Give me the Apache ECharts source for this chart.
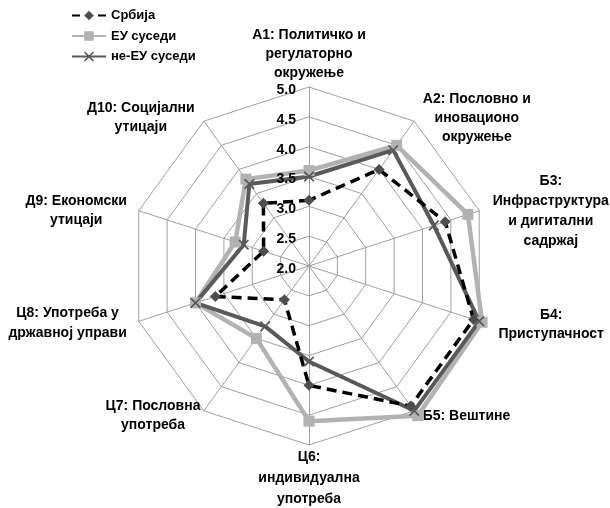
<!DOCTYPE html>
<html>
<head>
<meta charset="utf-8">
<script src="https://cdn.jsdelivr.net/npm/echarts@6/dist/echarts.min.js"></script>
<style>
html,body{margin:0;padding:0;background:#ffffff;}
#chart{width:610px;height:508px;}
</style>
</head>
<body>
<div id="chart"></div>
<script>
// ---- data (clockwise from the top) ----
const categories = [
  'А1: Политичко и\nрегулаторно\nокружење',
  'А2: Пословно и\nиновационо\nокружење',
  'Б3:\nИнфраструктура\nи дигитални\nсадржај',
  'Б4:\nПриступачност',
  'Б5: Вештине',
  'Ц6:\nиндивидуална\nупотреба',
  'Ц7: Пословна\nупотреба',
  'Ц8: Употреба у\nдржавној управи',
  'Д9: Економски\nутицаји',
  'Д10: Социјални\nутицаји'
];
const seriesNames = ['Србија', 'ЕУ суседи', 'не-ЕУ суседи'];
const serbia          = [3.1, 4.0, 4.4, 4.9, 4.9, 4.0, 2.7, 3.65, 2.8, 3.3];
const euNeighbours    = [3.6, 4.5, 4.8, 5.05, 5.1, 4.6, 3.5, 4.0, 3.3, 3.8];
const nonEuNeighbours = [3.5, 4.4, 4.2, 5.0, 5.0, 3.6, 3.25, 4.0, 3.15, 3.7];
const scaleMin = 2.0;
const scaleMax = 5.0;
const scaleStep = 0.5;

// ---- layout / styling (not data) ----
const FONT = '"Liberation Sans", Arial, sans-serif';
const CENTER = [309, 266];
const RADIUS = 179;
// per-label name gap, text block width, line height
const labelLayout = [
  {gap: 4,   w: 130, lh: 19},
  {gap: 3.6, w: 121, lh: 19},
  {gap: -2,  w: 147, lh: 20},
  {gap: 11,  w: 123, lh: 19},
  {gap: 6.4, w: 97,  lh: 19},
  {gap: 1.2, w: 130, lh: 21},
  {gap: 6.4, w: 94,  lh: 19},
  {gap: 6.5, w: 130, lh: 20},
  {gap: -1,  w: 127, lh: 19},
  {gap: 4.2, w: 121, lh: 19}
];
// ECharts places indicators counter-clockwise; reorder to get a clockwise layout
const order = [0, 9, 8, 7, 6, 5, 4, 3, 2, 1];
const reorder = arr => order.map(i => arr[i]);

const rich = {};
labelLayout.forEach((l, i) => {
  rich['l' + i] = {width: l.w, align: 'center', lineHeight: l.lh, fontSize: 14,
                   fontWeight: 'bold', fontFamily: FONT, color: '#000'};
});

const indicator = order.map(i => ({
  name: categories[i], min: scaleMin, max: scaleMax, nameGap: labelLayout[i].gap
}));

const xPath = 'path://M0,0 L1.2,0 L5,3.8 L8.8,0 L10,0 L10,1.2 L6.2,5 L10,8.8 L10,10 L8.8,10 L5,6.2 L1.2,10 L0,10 L0,8.8 L3.8,5 L0,1.2 Z';

const styles = {
  'Србија':       {line: '#000000', sym: '#4d4d4d', width: 3.5, type: [10, 6], legendType: [8, 18], symbol: 'diamond', size: 11},
  'ЕУ суседи':    {line: '#b2b2b2', sym: '#b2b2b2', width: 4.5, type: 'solid', legendType: 'solid', symbol: 'rect', size: 11},
  'не-ЕУ суседи': {line: '#595959', sym: '#595959', width: 4,   type: 'solid', legendType: 'solid', symbol: xPath, size: 10}
};
const values = {'Србија': serbia, 'ЕУ суседи': euNeighbours, 'не-ЕУ суседи': nonEuNeighbours};

// empty line series only provide the line+marker legend icons
const legendSeries = seriesNames.map(n => ({
  type: 'line', name: n, data: [], xAxisIndex: 0, yAxisIndex: 0,
  symbol: styles[n].symbol, symbolSize: styles[n].size,
  lineStyle: {color: styles[n].line, width: styles[n].width, type: styles[n].legendType},
  itemStyle: {color: styles[n].sym}
}));

const drawOrder = ['ЕУ суседи', 'не-ЕУ суседи', 'Србија'];
const radarSeries = drawOrder.map(n => ({
  type: 'radar', name: n,
  symbol: styles[n].symbol, symbolSize: styles[n].size,
  lineStyle: {color: styles[n].line, width: styles[n].width, type: styles[n].type},
  itemStyle: {color: styles[n].sym},
  data: [{name: n, value: reorder(values[n])}]
}));

const chart = echarts.init(document.getElementById('chart'), null, {renderer: 'canvas'});
chart.setOption({
  animation: false,
  backgroundColor: '#ffffff',
  textStyle: {fontFamily: FONT},
  grid: {left: 0, top: 0, width: 1, height: 1, show: false},
  xAxis: {type: 'category', show: false, data: []},
  yAxis: {type: 'value', show: false},
  legend: {
    data: seriesNames, orient: 'vertical', left: 66, top: 3.5,
    itemWidth: 34, itemHeight: 12, itemGap: 6.5,
    textStyle: {fontSize: 13, fontWeight: 'bold', color: '#000', fontFamily: FONT, lineHeight: 14}
  },
  polar: {center: CENTER, radius: RADIUS},
  angleAxis: {type: 'value', min: 0, max: 360, startAngle: 90, show: false},
  radiusAxis: {
    type: 'value', min: scaleMin, max: scaleMax, interval: scaleStep, z: 10,
    axisLine: {show: false}, axisTick: {show: false}, splitLine: {show: false},
    axisLabel: {show: true, fontSize: 14, fontWeight: 'bold', color: '#000', fontFamily: FONT,
                margin: 13, verticalAlign: 'top', lineHeight: 6,
                formatter: v => Number(v).toFixed(1)}
  },
  radar: {
    center: CENTER, radius: RADIUS, startAngle: 90,
    shape: 'polygon', splitNumber: Math.round((scaleMax - scaleMin) / scaleStep),
    indicator: indicator,
    axisName: {
      color: '#000', fontSize: 14, fontWeight: 'bold', fontFamily: FONT,
      formatter: (name) => {
        const idx = categories.indexOf(name);
        return name.split('\n').map(s => '{l' + idx + '|' + s + '}').join('\n');
      },
      rich: rich
    },
    axisLine: {show: true, lineStyle: {color: '#a0a0a0', width: 1}},
    splitLine: {show: true, lineStyle: {color: '#a0a0a0', width: 1}},
    splitArea: {show: false},
    axisTick: {show: false},
    axisLabel: {show: false}
  },
  series: legendSeries.concat(radarSeries)
});
</script>
</body>
</html>
